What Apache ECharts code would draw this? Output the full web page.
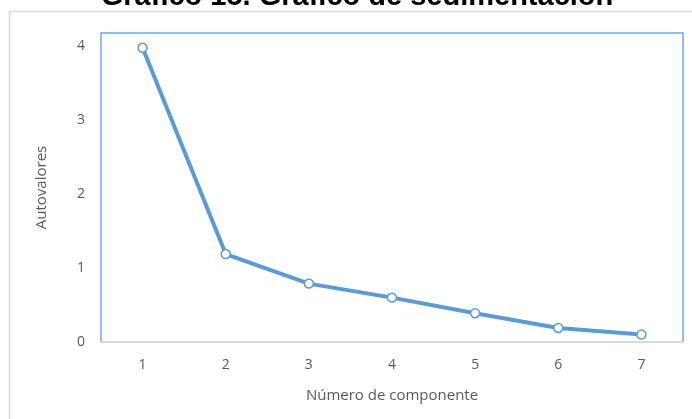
<!DOCTYPE html>
<html>
<head>
<meta charset="utf-8">
<script src="https://cdn.jsdelivr.net/npm/echarts@6/dist/echarts.min.js"></script>
<style>
html,body{margin:0;padding:0;background:#fff;}
#c{width:692px;height:419px;}
</style>
</head>
<body>
<div id="c"></div>
<script>
const titleText = "Gráfico 15. Gráfico de sedimentación";
const categories = ["1", "2", "3", "4", "5", "6", "7"];
const eigenvalues = [3.98, 1.19, 0.79, 0.6, 0.39, 0.19, 0.1];
const xAxisName = "Número de componente";
const yAxisName = "Autovalores";

const chart = echarts.init(document.getElementById('c'), null, {renderer: 'canvas'});
const font = "'Open Sans', 'Liberation Sans', sans-serif";
chart.setOption({
  animation: false,
  backgroundColor: '#fff',
  graphic: [{
    type: 'rect', silent: true, z: -1,
    shape: {x: 9.5, y: 11.5, width: 700, height: 420},
    style: {fill: 'none', stroke: '#D9D9D9', lineWidth: 1.5}
  }, {
    type: 'text', silent: true, z: 10,
    x: 357, y: 11,
    style: {
      text: titleText, fill: '#000',
      font: "bold 29px 'Liberation Sans', Arial, sans-serif",
      textAlign: 'center', textVerticalAlign: 'bottom'
    }
  }],
  grid: {
    left: 101, top: 33, right: 9, bottom: 77,
    show: true, borderColor: '#6FA8DC', borderWidth: 1.5, backgroundColor: 'transparent'
  },
  xAxis: {
    type: 'category', data: categories, boundaryGap: true,
    name: xAxisName, nameLocation: 'middle', nameGap: 46,
    nameTextStyle: {fontFamily: font, fontSize: 15, color: '#595959'},
    axisLine: {lineStyle: {color: '#D9D9D9', width: 2}},
    axisTick: {show: false},
    axisLabel: {fontFamily: font, fontSize: 14, color: '#595959', margin: 16}
  },
  yAxis: {
    type: 'value', min: 0, max: 4.18, interval: 1,
    name: yAxisName, nameLocation: 'middle', nameGap: 52,
    nameTextStyle: {fontFamily: font, fontSize: 15, color: '#595959'},
    axisLine: {show: false}, axisTick: {show: false}, splitLine: {show: false},
    axisLabel: {fontFamily: font, fontSize: 14, color: '#595959', margin: 16, showMaxLabel: false,
      formatter: v => Number.isInteger(v) ? String(v) : ''}
  },
  series: [{
    type: 'line', data: eigenvalues,
    lineStyle: {color: '#5B9BD5', width: 4},
    symbol: 'circle', symbolSize: 9,
    itemStyle: {color: '#fff', borderColor: '#5B9BD5', borderWidth: 1.5}
  }]
});
</script>
</body>
</html>
